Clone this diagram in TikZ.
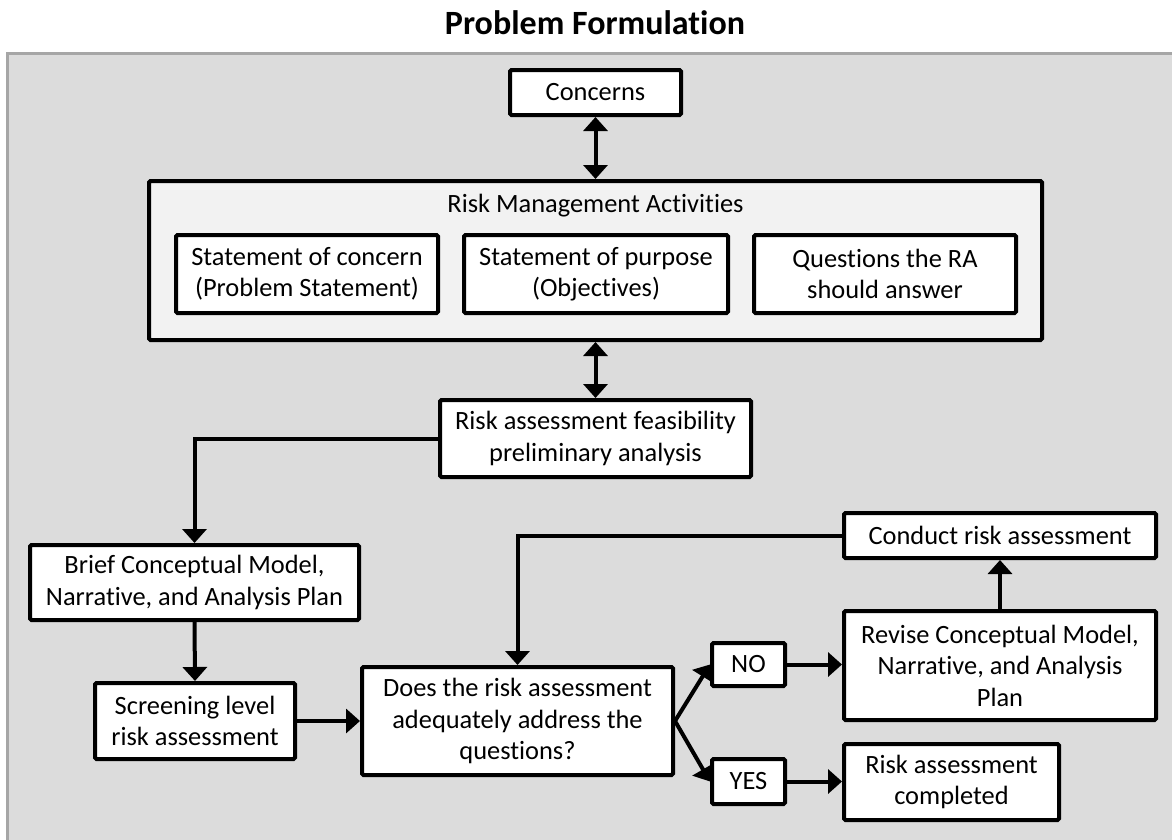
\documentclass[tikz,border=0pt]{standalone}
\usepackage{fontspec}
\setmainfont{Carlito}[RawFeature=-liga]
\usetikzlibrary{arrows.meta}
\definecolor{bggray}{HTML}{DCDCDC}
\definecolor{bordergray}{HTML}{A6A6A6}
\definecolor{rmafill}{HTML}{F2F2F2}
\begin{document}
\begin{tikzpicture}[x=1pt,y=-1pt,
  box/.style={draw=black, fill=white, line width=4pt, rounded corners=1.5pt, align=center, inner sep=0pt,
    font=\fontsize{26.4}{31.5}\selectfont},
  conn/.style={line width=4pt, -{Triangle[width=24pt,length=14pt]}},
  dconn/.style={line width=4pt, {Triangle[width=24pt,length=14pt]}-{Triangle[width=24pt,length=14pt]}},
]
\useasboundingbox (0,0) rectangle (1172,839);
\fill[white] (0,0) rectangle (1172,839);
\clip (0,0) rectangle (1172,839);
\node[anchor=base, font=\fontsize{34}{40}\selectfont\bfseries] (title) at (595,34) {Problem Formulation};
\draw[fill=bggray, draw=bordergray, line width=3pt] (7.5,53.5) rectangle (1200,880);

% top boxes
\node[box, minimum width=171pt, minimum height=45pt] (concerns) at (595.5,92.5) {Concerns};
\node[box, fill=rmafill, minimum width=893pt, minimum height=159pt] (rma) at (595.5,260.5) {};
\node[anchor=base, font=\fontsize{26.4}{31.5}\selectfont] (rmalabel) at (595.5,212) {Risk Management Activities};
\node[box, minimum width=262pt, minimum height=78pt] (s1) at (307,274) {Statement of concern\\(Problem Statement)};
\node[box, minimum width=264pt, minimum height=78pt] (s2) at (596,274) {Statement of purpose\\(Objectives)};
\node[box, minimum width=262pt, minimum height=78pt] (s3) at (885,274) {Questions the RA\\should answer};
\node[box, minimum width=311pt, minimum height=77pt] (feas) at (595.5,438.5) {Risk assessment feasibility\\preliminary analysis};

% left column
\node[box, minimum width=329pt, minimum height=75pt] (brief) at (194.5,582.5) {Brief Conceptual Model,\\Narrative, and Analysis Plan};
\node[box, minimum width=200pt, minimum height=76pt] (screen) at (195,721) {Screening level\\risk assessment};

% decision
\node[box, minimum width=311pt, minimum height=108pt] (does) at (517.5,721) {Does the risk assessment\\adequately address the\\questions?};
\node[box, minimum width=73pt, minimum height=43pt] (no) at (748.5,664.5) {NO};
\node[box, minimum width=73pt, minimum height=45pt] (yes) at (748.5,781.5) {YES};

% right column
\node[box, minimum width=312pt, minimum height=45pt] (conduct) at (1000,535.5) {Conduct risk assessment};
\node[box, minimum width=312pt, minimum height=109pt] (revise) at (1000,665.5) {Revise Conceptual Model,\\Narrative, and Analysis\\Plan};
\node[box, minimum width=215pt, minimum height=76pt] (done) at (951.5,782) {Risk assessment\\completed};

% connectors
\draw[dconn] (concerns.south) -- (rma.north);
\draw[dconn] (rma.south) -- (feas.north);
\draw[conn] (feas.west) -| (brief.north);
\draw[conn] (brief.south) -- (screen.north);
\draw[conn] (screen.east) -- (does.west);
\draw[conn] (does.east) -- (no.west);
\draw[conn] (does.east) -- (yes.west);
\draw[conn] (no.east) -- (no.east -| revise.west);
\draw[conn] (yes.east) -- (yes.east -| done.west);
\draw[conn] (revise.north) -- (conduct.south);
\draw[conn] (conduct.west) -| (does.north);
\end{tikzpicture}
\end{document}
